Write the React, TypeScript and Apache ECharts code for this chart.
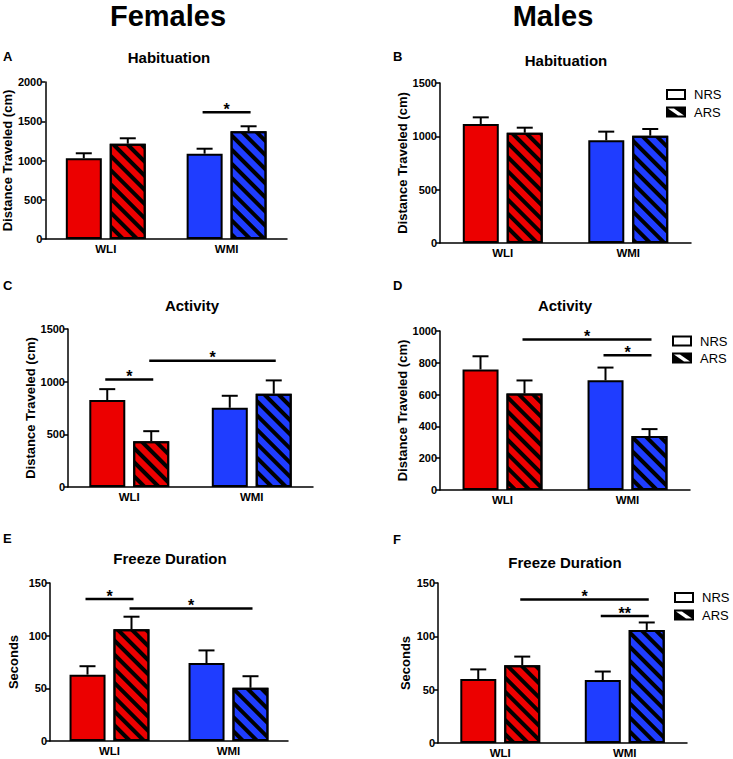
import React, { useEffect, useRef } from 'react';
import * as echarts from 'echarts';

const FONT = '"Liberation Sans", Arial, Helvetica, sans-serif';
const categories = ['WLI', 'WMI'];
const groupColors = ['#ec0000', '#1f3dff'];

// A – Females, Habituation
const habFemNRS = [1028, 1087];
const habFemNRSsem = [64, 63];
const habFemARS = [1214, 1372];
const habFemARSsem = [69, 64];
const habFemSig = [{ a: [1, 0], b: [1, 1], y: 1614, text: '*' }];

// B – Males, Habituation
const habMaleNRS = [1115, 963];
const habMaleNRSsem = [63, 81];
const habMaleARS = [1034, 1006];
const habMaleARSsem = [47, 63];
const habMaleSig: any[] = [];

// C – Females, Activity
const actFemNRS = [825, 752];
const actFemNRSsem = [104, 114];
const actFemARS = [435, 885];
const actFemARSsem = [95, 127];
const actFemSig = [
  { a: [0, 0], b: [0, 1], y: 1021, text: '*' },
  { a: [0, 1], b: [1, 1], y: 1198, text: '*' },
];

// D – Males, Activity
const actMaleNRS = [758, 690];
const actMaleNRSsem = [83, 80];
const actMaleARS = [607, 339];
const actMaleARSsem = [82, 44];
const actMaleSig = [
  { a: [0, 1], b: [1, 1], y: 946, text: '*' },
  { a: [1, 0], b: [1, 1], y: 847, text: '*' },
];

// E – Females, Freeze Duration
const frzFemNRS = [63, 74];
const frzFemNRSsem = [8, 12];
const frzFemARS = [106, 50.5];
const frzFemARSsem = [12, 11];
const frzFemSig = [
  { a: [0, 0], b: [0, 1], y: 134.7, text: '*' },
  { a: [0, 1], b: [1, 1], y: 125.8, text: '*' },
];

// F – Males, Freeze Duration
const frzMaleNRS = [60, 59];
const frzMaleNRSsem = [9, 8];
const frzMaleARS = [73, 106];
const frzMaleARSsem = [8, 7];
const frzMaleSig = [
  { a: [0, 1], b: [1, 1], y: 134.5, text: '*' },
  { a: [1, 0], b: [1, 1], y: 119, text: '**' },
];

const legendNames = ['NRS', 'ARS'];

const BAR_W = 36;
const OFF = 22;
const CAP = 16;

const panels = [
  { letter: 'A', title: 'Habituation', tx: 169, ty: 57, lx: 3, ly: 56, left: 45, top: 82, width: 242, height: 157, max: 2000, interval: 500, yName: 'Distance Traveled (cm)', nameGap: 29, nrs: habFemNRS, nrsSem: habFemNRSsem, ars: habFemARS, arsSem: habFemARSsem, sig: habFemSig, legend: null as any },
  { letter: 'B', title: 'Habituation', tx: 566, ty: 60, lx: 393, ly: 56, left: 440, top: 83, width: 251, height: 160, max: 1500, interval: 500, yName: 'Distance Traveled (cm)', nameGap: 28, nrs: habMaleNRS, nrsSem: habMaleNRSsem, ars: habMaleARS, arsSem: habMaleARSsem, sig: habMaleSig, legend: { x: 667, y1: 94.5, y2: 112 } },
  { letter: 'C', title: 'Activity', tx: 192, ty: 305, lx: 3, ly: 285, left: 68, top: 329, width: 245, height: 158, max: 1500, interval: 500, yName: 'Distance Traveled (cm)', nameGap: 31, nrs: actFemNRS, nrsSem: actFemNRSsem, ars: actFemARS, arsSem: actFemARSsem, sig: actFemSig, legend: null },
  { letter: 'D', title: 'Activity', tx: 565, ty: 305, lx: 393, ly: 285, left: 440, top: 331, width: 250, height: 159, max: 1000, interval: 200, yName: 'Distance Traveled (cm)', nameGap: 31, nrs: actMaleNRS, nrsSem: actMaleNRSsem, ars: actMaleARS, arsSem: actMaleARSsem, sig: actMaleSig, legend: { x: 673, y1: 341, y2: 358 } },
  { letter: 'E', title: 'Freeze Duration', tx: 170, ty: 558, lx: 3, ly: 538, left: 50, top: 583, width: 238, height: 158, max: 150, interval: 50, yName: 'Seconds', nameGap: 30, nrs: frzFemNRS, nrsSem: frzFemNRSsem, ars: frzFemARS, arsSem: frzFemARSsem, sig: frzFemSig, legend: null },
  { letter: 'F', title: 'Freeze Duration', tx: 565, ty: 562, lx: 393, ly: 539, left: 438, top: 583, width: 249, height: 162, max: 150, interval: 50, yName: 'Seconds', nameGap: 26, nrs: frzMaleNRS, nrsSem: frzMaleNRSsem, ars: frzMaleARS, arsSem: frzMaleARSsem, sig: frzMaleSig, legend: { x: 675, y1: 597.5, y2: 615 } },
];

const hatch = {
  symbol: 'rect',
  symbolSize: 1,
  color: '#000',
  dashArrayX: [1, 0],
  dashArrayY: [3.5, 6],
  rotation: Math.PI / 4,
};

function errRender(side: number) {
  return (params: any, api: any) => {
    const c = api.value(0);
    const v = api.value(1);
    const t = api.value(2);
    const p0 = api.coord([c, v]);
    const p1 = api.coord([c, t]);
    const x = p0[0] + side * OFF;
    return {
      type: 'group',
      children: [
        { type: 'line', shape: { x1: x, y1: p0[1], x2: x, y2: p1[1] }, style: { stroke: '#000', lineWidth: 2 } },
        { type: 'line', shape: { x1: x - CAP / 2, y1: p1[1], x2: x + CAP / 2, y2: p1[1] }, style: { stroke: '#000', lineWidth: 2 } },
      ],
    };
  };
}

function sigRender(labels: string[]) {
  return (params: any, api: any) => {
    const c1 = api.value(0);
    const s1 = api.value(1);
    const c2 = api.value(2);
    const s2 = api.value(3);
    const y = api.value(4);
    const p1 = api.coord([c1, y]);
    const p2 = api.coord([c2, y]);
    const x1 = p1[0] + (s1 ? OFF : -OFF) - 2;
    const x2 = p2[0] + (s2 ? OFF : -OFF) + 2;
    const yy = p1[1];
    return {
      type: 'group',
      children: [
        { type: 'line', shape: { x1, y1: yy, x2, y2: yy }, style: { stroke: '#000', lineWidth: 2.5 } },
        {
          type: 'text',
          x: (x1 + x2) / 2,
          y: yy - 3,
          style: {
            text: labels[params.dataIndex],
            fill: '#000',
            font: `bold 16px ${FONT}`,
            align: 'center',
            verticalAlign: 'middle',
          },
        },
      ],
    };
  };
}

function textEl(text: string, x: number, y: number, size: number, weight: string, align = 'center') {
  return {
    type: 'text',
    x,
    y,
    style: {
      text,
      fill: '#000',
      font: `${weight} ${size}px ${FONT}`,
      align,
      verticalAlign: 'middle',
    },
  };
}

function legendEls(lg: any) {
  const w = 18;
  const h = 9;
  const x = lg.x;
  const yA = lg.y1 - h / 2;
  const yB = lg.y2 - h / 2;
  return [
    { type: 'rect', shape: { x, y: yA, width: w, height: h }, style: { fill: '#fff', stroke: '#000', lineWidth: 2 } },
    { type: 'rect', shape: { x, y: yB, width: w, height: h }, style: { fill: '#000', stroke: '#000', lineWidth: 2 } },
    { type: 'polygon', shape: { points: [[x + 1, yB + 1], [x + 7, yB + 1], [x + w - 1, yB + h - 1], [x + w - 7, yB + h - 1]] }, style: { fill: '#fff' } },
    textEl(legendNames[0], x + 27, lg.y1, 13, 'normal', 'left'),
    textEl(legendNames[1], x + 27, lg.y2, 13, 'normal', 'left'),
  ];
}

export default function App() {
  const ref = useRef<HTMLDivElement>(null);
  useEffect(() => {
    document.body.style.margin = '0';
    const chart = echarts.init(ref.current!, null, { renderer: 'svg' });

    const grid = panels.map((p) => ({ left: p.left, top: p.top, width: p.width, height: p.height }));
    const xAxis = panels.map((p, i) => ({
      type: 'category',
      gridIndex: i,
      data: categories,
      axisLine: { lineStyle: { color: '#000', width: 1.5 } },
      axisTick: { show: false },
      axisLabel: { color: '#000', fontWeight: 'bold', fontSize: 11.5, fontFamily: FONT, margin: 4 },
    }));
    const yAxis = panels.map((p, i) => ({
      type: 'value',
      gridIndex: i,
      min: 0,
      max: p.max,
      interval: p.interval,
      name: p.yName,
      nameLocation: 'middle',
      nameRotate: 90,
      nameGap: p.nameGap,
      nameTextStyle: { color: '#000', fontWeight: 'bold', fontSize: 13, fontFamily: FONT },
      axisLine: { show: true, lineStyle: { color: '#000', width: 1.5 } },
      axisTick: { show: true, length: 4, lineStyle: { color: '#000', width: 1.5 } },
      splitLine: { show: false },
      axisLabel: {
        color: '#000',
        fontWeight: 'bold',
        fontSize: 11,
        fontFamily: FONT,
        margin: 3,
        formatter: (v: number) => String(v),
      },
    }));

    const series: any[] = [];
    panels.forEach((p, i) => {
      series.push({
        type: 'bar',
        name: legendNames[0],
        xAxisIndex: i,
        yAxisIndex: i,
        barWidth: BAR_W,
        barGap: '22%',
        data: p.nrs.map((v, k) => ({ value: v, itemStyle: { color: groupColors[k] } })),
        itemStyle: { borderColor: '#000', borderWidth: 2 },
      });
      series.push({
        type: 'bar',
        name: legendNames[1],
        xAxisIndex: i,
        yAxisIndex: i,
        barWidth: BAR_W,
        barGap: '22%',
        data: p.ars.map((v, k) => ({ value: v, itemStyle: { color: groupColors[k] } })),
        itemStyle: { borderColor: '#000', borderWidth: 2, decal: hatch },
      });
      series.push({
        type: 'custom',
        xAxisIndex: i,
        yAxisIndex: i,
        z: 5,
        clip: false,
        renderItem: errRender(-1),
        encode: { x: 0, y: [1, 2] },
        data: p.nrs.map((v, k) => [k, v, v + p.nrsSem[k]]),
      });
      series.push({
        type: 'custom',
        xAxisIndex: i,
        yAxisIndex: i,
        z: 5,
        clip: false,
        renderItem: errRender(1),
        encode: { x: 0, y: [1, 2] },
        data: p.ars.map((v, k) => [k, v, v + p.arsSem[k]]),
      });
      if (p.sig.length) {
        series.push({
          type: 'custom',
          xAxisIndex: i,
          yAxisIndex: i,
          z: 5,
          clip: false,
          renderItem: sigRender(p.sig.map((s: any) => s.text)),
          encode: { x: [0, 2], y: 4 },
          data: p.sig.map((s: any) => [s.a[0], s.a[1], s.b[0], s.b[1], s.y]),
        });
      }
    });

    const graphic: any[] = [
      textEl('Females', 168, 16, 29, 'bold'),
      textEl('Males', 553, 16, 29, 'bold'),
    ];
    panels.forEach((p) => {
      graphic.push(textEl(p.letter, p.lx, p.ly, 13, 'bold', 'left'));
      graphic.push(textEl(p.title, p.tx, p.ty, 15, 'bold'));
      if (p.legend) graphic.push(...legendEls(p.legend));
    });

    chart.setOption({
      animation: false,
      backgroundColor: '#fff',
      grid,
      xAxis,
      yAxis,
      series,
      graphic,
    } as any);
    return () => chart.dispose();
  }, []);
  return <div ref={ref} style={{ width: 733, height: 759 }} />;
}
